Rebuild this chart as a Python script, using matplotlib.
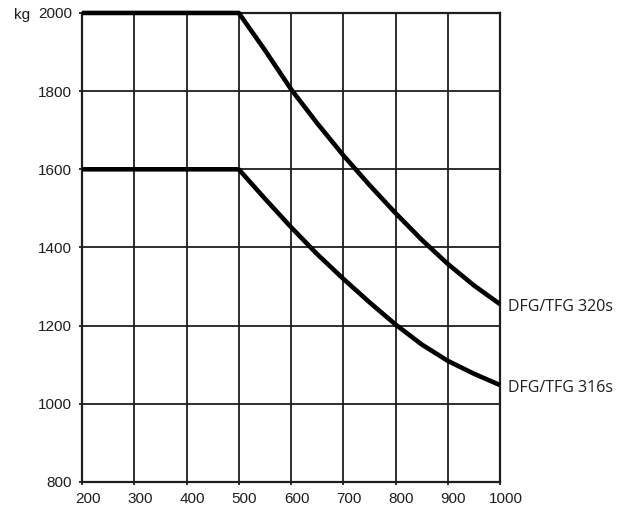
import matplotlib
matplotlib.use("Agg")
import matplotlib.pyplot as plt
import matplotlib.transforms as mtrans

# load capacity (kg) vs. load centre distance (mm)
load_centre = [200, 500, 550, 600, 650, 700, 750, 800, 850, 900, 950, 1000]
cap_320s = [2000, 2000, 1905, 1805, 1718, 1636, 1560, 1488, 1420, 1358, 1303, 1255]
cap_316s = [1600, 1600, 1525, 1452, 1383, 1320, 1260, 1203, 1152, 1110, 1077, 1048]
series_labels = ["DFG/TFG 320s", "DFG/TFG 316s"]

x_ticks = list(range(200, 1001, 100))
y_ticks = list(range(800, 2001, 200))

plt.rcParams.update({"font.family": ["Liberation Sans", "DejaVu Sans"]})

fig = plt.figure(figsize=(6.25, 5.16), dpi=100)
ax = fig.add_axes([0.1312, 0.0659, 0.6688, 0.909])

for ys in (cap_320s, cap_316s):
    ax.plot(load_centre, ys, color="black", linewidth=3.3,
            solid_joinstyle="round", solid_capstyle="butt",
            zorder=3, clip_on=False)

ax.set_xlim(200, 1000)
ax.set_ylim(800, 2000)
ax.set_xticks(x_ticks)
ax.set_yticks(y_ticks)
ax.grid(True, color="#1e1e1e", linewidth=1.3)
ax.tick_params(length=2.5, width=1.3, labelsize=11, color="#1e1e1e",
               labelcolor="#1e1e1e", pad=4.5)
for s in ax.spines.values():
    s.set_linewidth(1.6)
    s.set_color("#1e1e1e")

# x labels sit a little right of their grid lines in the original
shift = mtrans.ScaledTranslation(4 / 72, 0, fig.dpi_scale_trans)
for lab in ax.get_xticklabels():
    lab.set_transform(lab.get_transform() + shift)

fig.text(14 / 625, 1 - 15 / 516, "kg", ha="left", va="center",
         fontsize=11, color="#1e1e1e")

for ys, lab in zip((cap_320s, cap_316s), series_labels):
    ax.annotate(lab, xy=(load_centre[-1], ys[-1]), xytext=(6, -2),
                textcoords="offset points", ha="left", va="center",
                fontsize=11.5, family=["Open Sans", "DejaVu Sans"],
                color="#1e1e1e", annotation_clip=False)

fig.savefig("out.png", dpi=100, facecolor="white")
